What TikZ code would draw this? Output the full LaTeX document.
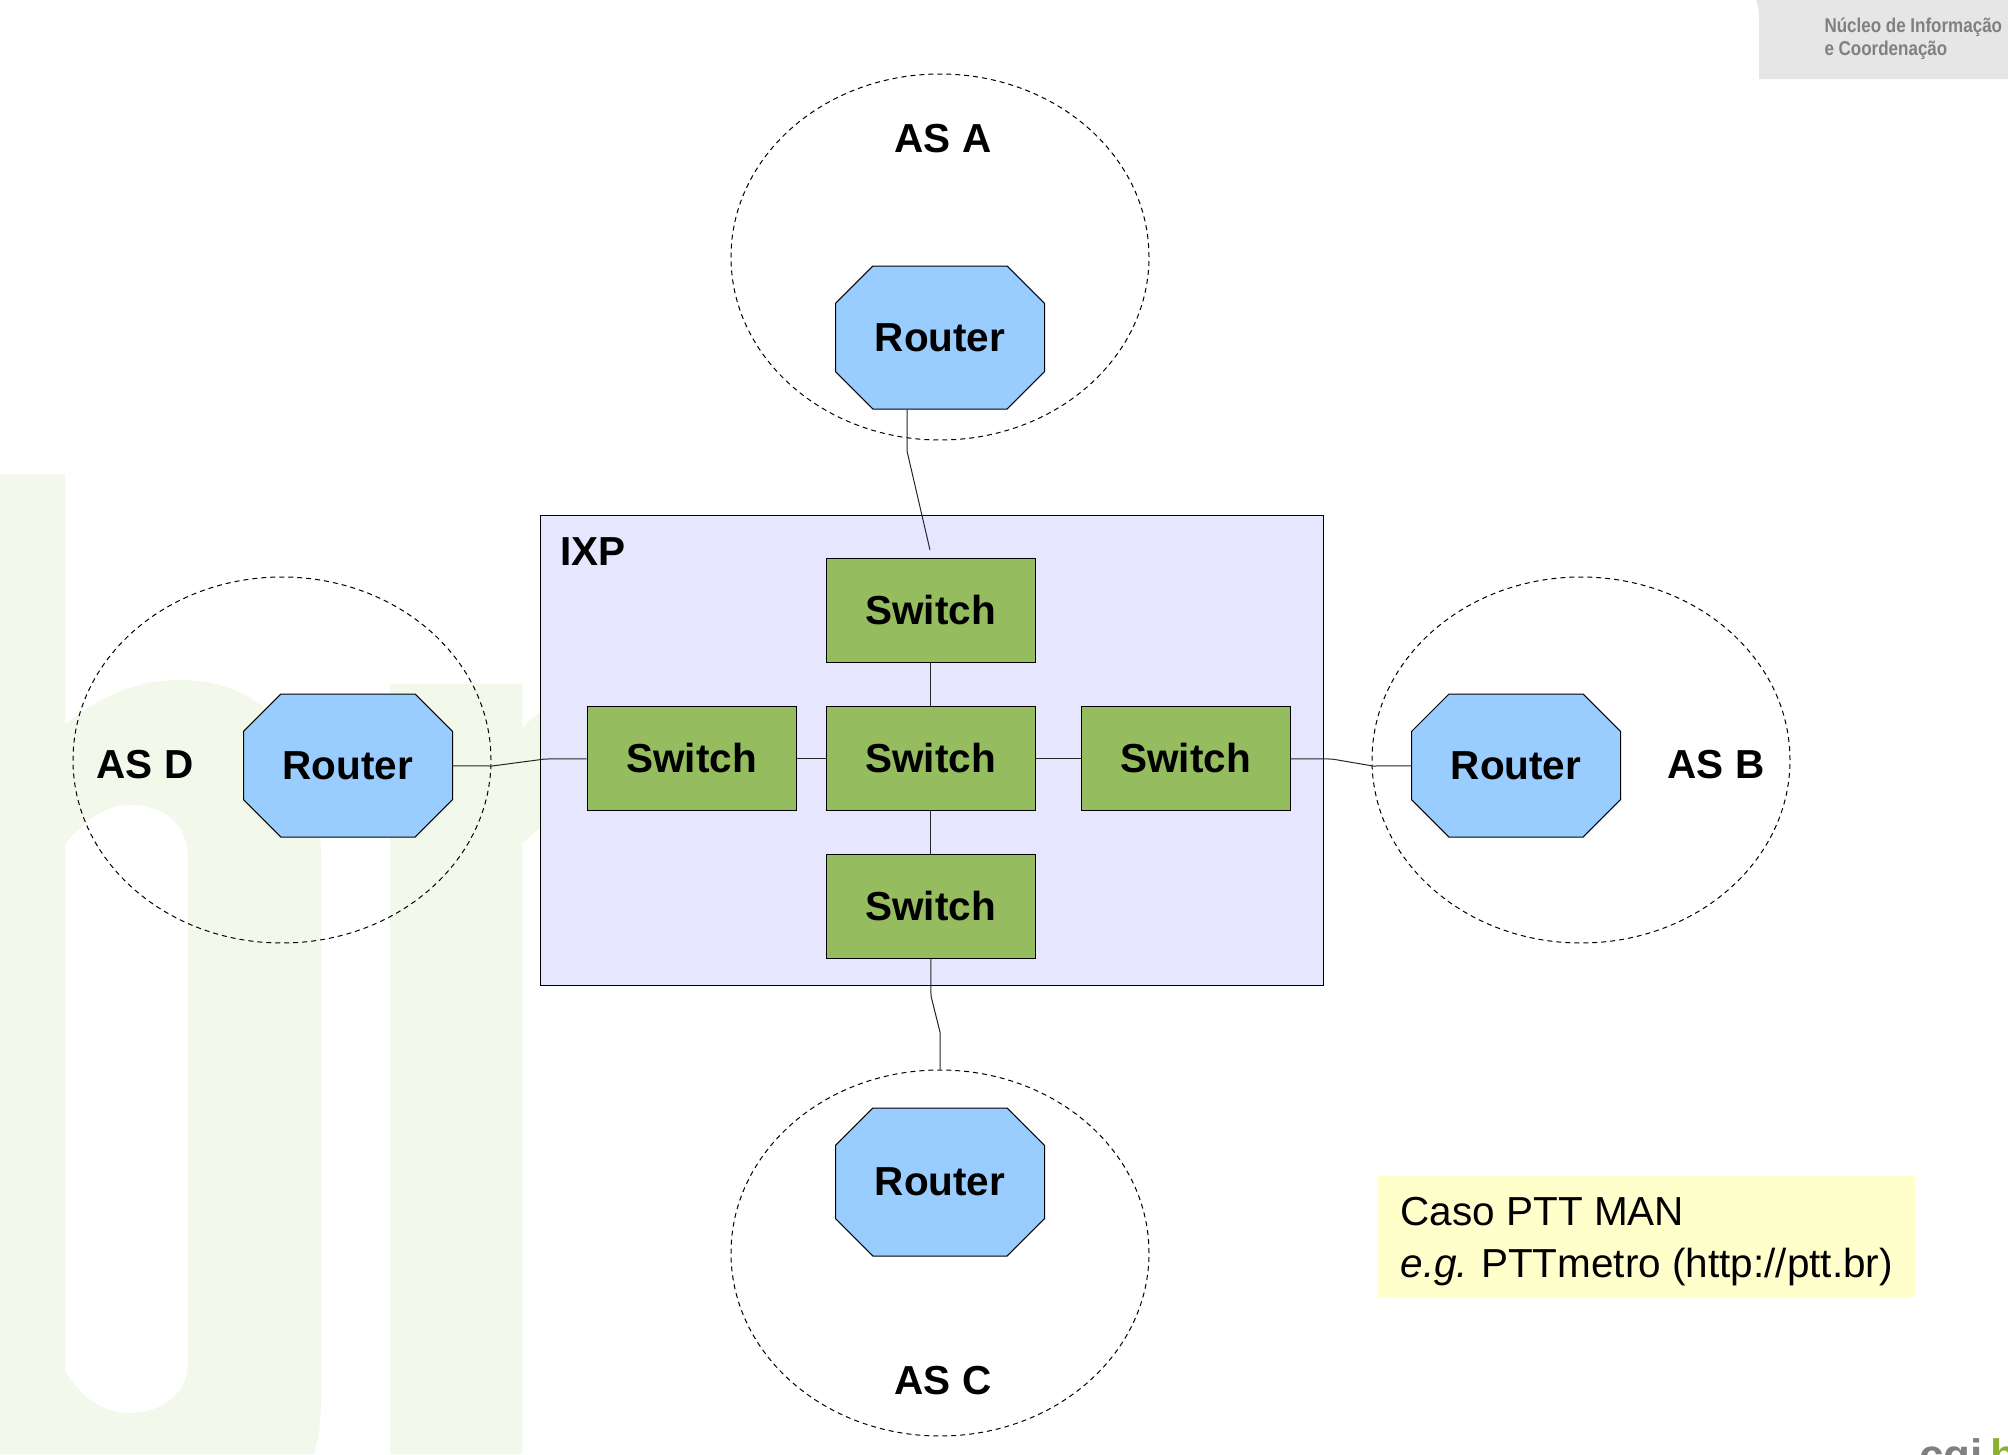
\documentclass[tikz,border=0pt]{standalone}
\usepackage{fontspec}
\setmainfont{Liberation Sans}
\newfontfamily\nicfont[FakeStretch=0.85]{Liberation Sans}
\usetikzlibrary{shapes.geometric,shapes.misc}
\definecolor{bgmark}{HTML}{F2F8EA}
\definecolor{routerblue}{HTML}{99CCFF}
\definecolor{switchgreen}{HTML}{95BC5E}
\definecolor{ixplilac}{HTML}{E6E6FF}
\definecolor{notebg}{HTML}{FFFFCC}
\definecolor{logogray}{HTML}{E6E6E6}
\definecolor{logotext}{HTML}{808080}
\definecolor{logogreen}{HTML}{8DB030}

\begin{document}
\begin{tikzpicture}[x=1pt,y=-1pt,line width=1pt,
                    every node/.style={font=\fontsize{40.5}{48}\selectfont},
                    node distance=148pt]
  \tikzstyle{router}=[chamfered rectangle,chamfered rectangle xsep=23.3pt,
                      chamfered rectangle ysep=23.3pt,fill=routerblue,draw=black,
                      minimum width=209pt,minimum height=143pt,inner sep=0pt,
                      font=\fontsize{40.5}{48}\selectfont\bfseries]
  \tikzstyle{switchbox}=[rectangle,fill=switchgreen,draw=black,minimum width=209pt,
                         minimum height=104pt,inner sep=0pt,
                         font=\fontsize{40.5}{48}\selectfont\bfseries]
  \tikzstyle{ascloud}=[ellipse,draw=black,dashed,dash pattern=on 5pt off 4pt,
                       minimum width=418pt,minimum height=366pt,inner sep=0pt]
  \tikzstyle{aslabel}=[font=\fontsize{40.5}{48}\selectfont\bfseries]
  \tikzstyle{nicline}=[anchor=base west,inner sep=0pt,text=logotext,
                       font=\fontsize{20}{23}\nicfont\bfseries]
  \tikzstyle{cgimark}=[anchor=base west,inner sep=0pt,
                       font=\fontsize{44}{48}\selectfont\bfseries]
  \tikzstyle{wire}=[draw=black!85,line width=1pt]

  \clip (0,0) rectangle (2008,1454);

  % watermark
  \fill[bgmark,even odd rule]
    (0,474) -- (65,474) -- (65,725) .. controls (100,695) and (140,680) .. (180,680)
    .. controls (270,680) and (321,750) .. (321,860) -- (321,1400)
    .. controls (321,1425) and (318,1440) .. (314,1454) -- (0,1454) -- cycle
    (65,844) .. controls (85,820) and (105,805) .. (130,805)
    .. controls (165,805) and (188,825) .. (188,858) -- (188,1365)
    .. controls (188,1390) and (165,1413) .. (130,1413)
    .. controls (100,1413) and (80,1395) .. (65,1371) -- cycle;
  \fill[bgmark] (390,684) -- (522,684) -- (522,728) .. controls (535,715) and (545,708) .. (560,700)
    -- (560,810) -- (522,844) -- (522,1454) -- (390,1454) -- cycle;

  % logo corners
  \fill[logogray] (1756,0) .. controls (1758,6) and (1759,10) .. (1759,16) -- (1759,79)
    -- (2008,79) -- (2008,0) -- cycle;
  \node[nicline] (nicA) at (1824,32) {Núcleo de Informação};
  \node[nicline] (nicB) at (1824,55) {e Coordenação};
  \node[cgimark,text=logotext] (cgi) at (1919,1470) {cgi};
  \node[cgimark,text=logogreen] (cgib) at (1990,1470) {b};

  % IXP
  \node[rectangle,fill=ixplilac,draw=black,minimum width=783pt,minimum height=470pt,
        inner sep=0pt] (ixp) at (931.5,750) {};
  \node[aslabel] (ixpname) at (593,552) {IXP};

  \node[switchbox] (swM) at (930.5,758.5) {Switch};
  \node[switchbox] (swT) [above of=swM] {Switch};
  \node[switchbox] (swB) [below of=swM] {Switch};
  \node[switchbox] (swL) [left of=swM,node distance=239pt] {Switch};
  \node[switchbox] (swR) [right of=swM,node distance=255pt] {Switch};

  % the four AS
  \node[ascloud] (asA) at (940,257) {};
  \node[ascloud] (asB) at (1581,760) {};
  \node[ascloud] (asC) at (940,1253) {};
  \node[ascloud] (asD) at (282,760) {};
  \node[router] (rA) at (940,337.5) {Router};
  \node[router] (rB) at (1516,765.5) {Router};
  \node[router,minimum height=148pt] (rC) at (940,1182) {Router};
  \node[router] (rD) at (348,765.5) {Router};
  \node[aslabel] (nameA) at (943,139) {AS A};
  \node[aslabel] (nameB) at (1716,765) {AS B};
  \node[aslabel] (nameC) at (943,1381) {AS C};
  \node[aslabel] (nameD) at (145,765) {AS D};

  \coordinate (aBend) at (907,451);
  \coordinate (aEnd) at (930,550);
  \coordinate (bBend) at (1332,759);
  \coordinate (bBendB) at (1373,766);
  \coordinate (cBend) at (931,996);
  \coordinate (cBendB) at (940,1032);
  \coordinate (dBend) at (492,766);
  \coordinate (dBendB) at (545,759);

  \path[wire] (swT) -- (swM) (swM) -- (swB) (swL) -- (swM) (swM) -- (swR);
  \draw[wire] ([xshift=-33pt]rA.south) -- (aBend) -- (aEnd);
  \draw[wire] (swR) -- (bBend) -- (bBendB) -- (rB);
  \draw[wire] (swB) -- (cBend) -- (cBendB) -- (asC.north);
  \draw[wire] (rD) -- (dBend) -- (dBendB) -- (swL);

  \node[rectangle,fill=notebg,minimum width=537pt,minimum height=121pt,inner sep=0pt] (note) at (1646.5,1236.5) {};
  \node[anchor=base west,inner sep=0pt] (noteA) at (1400,1225) {Caso PTT MAN};
  \node[anchor=base west,inner sep=0pt] (noteB) at (1400,1277) {\textit{e.g.}\kern-2pt{} PTTmetro (http://ptt.br)};
\end{tikzpicture}
\end{document}
